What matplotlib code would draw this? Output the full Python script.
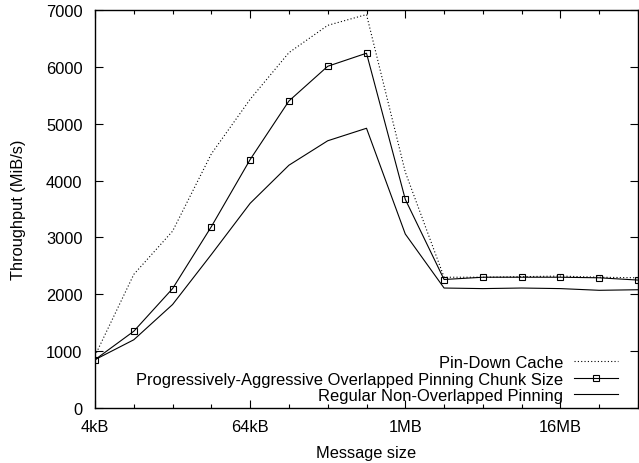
import matplotlib.pyplot as plt
from matplotlib.ticker import FixedLocator, NullFormatter

plt.rcParams['font.family'] = ['Liberation Sans', 'DejaVu Sans']
plt.rcParams['font.size'] = 11.8

# message sizes in kB
sizes_kb = [4, 8, 16, 32, 64, 128, 256, 512, 1024, 2048, 4096, 8192, 16384, 32768, 65536]

pin_down = [920, 2350, 3110, 4470, 5430, 6250, 6730, 6920, 4150, 2300, 2300, 2310, 2320, 2300, 2290]
progressive = [850, 1350, 2100, 3190, 4370, 5400, 6010, 6240, 3670, 2260, 2300, 2300, 2300, 2290, 2250]
regular = [850, 1200, 1820, 2700, 3600, 4270, 4700, 4920, 3060, 2110, 2100, 2110, 2100, 2070, 2080]

labels = ['Pin-Down Cache',
          'Progressively-Aggressive Overlapped Pinning Chunk Size',
          'Regular Non-Overlapped Pinning']

xtick_vals = [4, 64, 1024, 16384]
xtick_labels = ['4kB', '64kB', '1MB', '16MB']

fig = plt.figure(figsize=(6.39, 4.64), dpi=100)
ax = fig.add_axes([95 / 639, 55 / 464, 543 / 639, 398 / 464])

ax.plot(sizes_kb, pin_down, color='black', lw=0.8, ls=(0, (1, 2)), label=labels[0])
ax.plot(sizes_kb, progressive, color='black', lw=0.8, marker='s', ms=5,
        mfc='none', mew=0.8, label=labels[1])
ax.plot(sizes_kb, regular, color='black', lw=0.8, label=labels[2])

ax.set_xscale('log', base=2)
ax.set_xlim(4, 65536)
ax.set_ylim(0, 7000)
ax.set_yticks(range(0, 7001, 1000))
ax.xaxis.set_major_locator(FixedLocator(xtick_vals))
ax.set_xticklabels(xtick_labels)
ax.xaxis.set_minor_locator(FixedLocator(sizes_kb))
ax.xaxis.set_minor_formatter(NullFormatter())

ax.tick_params(which='both', direction='in', top=True, right=True, width=0.8)
ax.tick_params(which='major', length=6)
ax.tick_params(axis='y', which='major', pad=9)
ax.tick_params(axis='x', which='major', pad=8)
ax.tick_params(which='minor', length=3)
for s in ax.spines.values():
    s.set_linewidth(1.0)

ax.set_xlabel('Message size', labelpad=8)
ax.set_ylabel('Throughput (MiB/s)', labelpad=14)

ax.legend(loc='lower right', bbox_to_anchor=(0.963, 0.012), frameon=False,
          markerfirst=False, handlelength=2.65, handletextpad=0.65,
          labelspacing=0.1, borderaxespad=0, borderpad=0, fontsize=11.9)

fig.savefig('out.png', dpi=100)
